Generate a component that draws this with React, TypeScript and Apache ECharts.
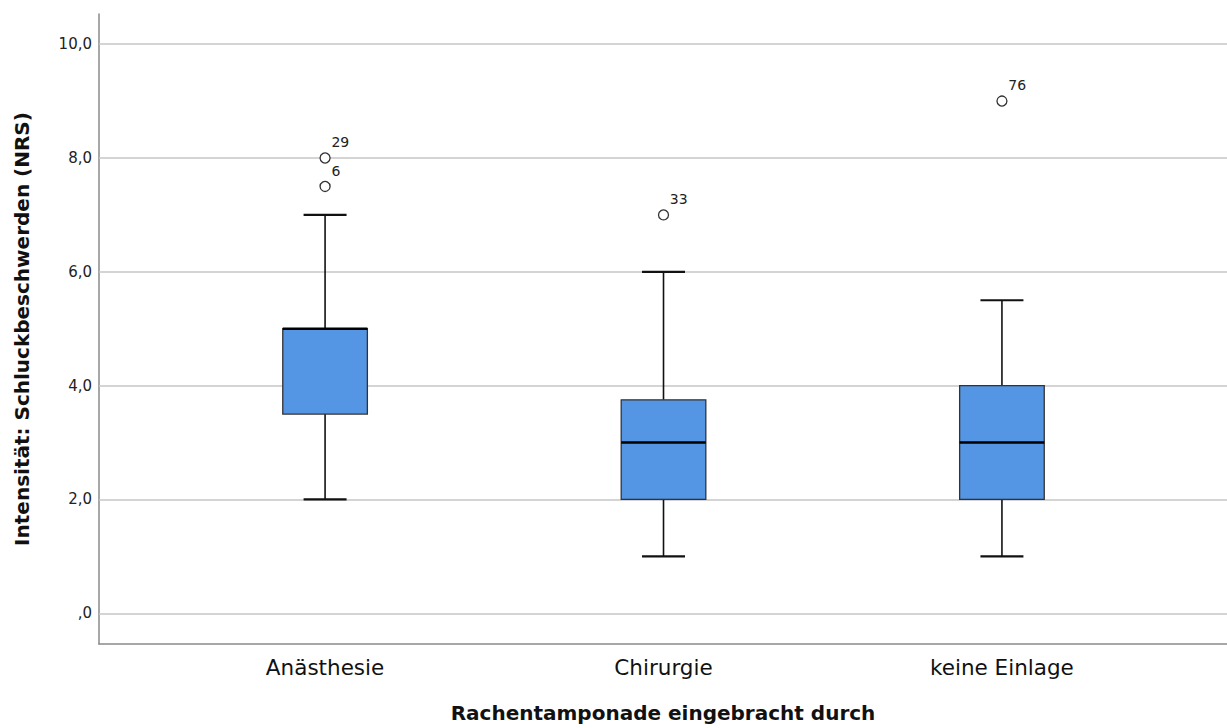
import React, { useEffect, useRef } from "react";
import * as echarts from "echarts";

const categories = ["Anästhesie", "Chirurgie", "keine Einlage"];
// [x position, min, Q1, median, Q3, max]
const boxData = [
  [1, 2, 3.5, 5, 5, 7],
  [2, 1, 2, 3, 3.75, 6],
  [3, 1, 2, 3, 4, 5.5],
];
// [x position, value, case label]
const outliers = [
  [1, 7.5, "6"],
  [1, 8, "29"],
  [2, 7, "33"],
  [3, 9, "76"],
];
const yTicks = [0, 2, 4, 6, 8, 10];
const xTicks = [1, 2, 3];

const FONT = "DejaVu Sans";

export default function App() {
  const ref = useRef<HTMLDivElement>(null);
  useEffect(() => {
    if (!ref.current) return;
    const chart = echarts.init(ref.current, null, { renderer: "svg" });
    const option = {
      animation: false,
      backgroundColor: "#fff",
      textStyle: { fontFamily: FONT },
      grid: { left: 99, right: 0, top: 14, bottom: 83 },
      xAxis: {
        type: "value",
        min: 0.332,
        max: 3.665,
        name: "Rachentamponade eingebracht durch",
        nameLocation: "middle",
        nameGap: 59,
        nameTextStyle: { fontSize: 20, fontWeight: "bold", color: "#111", fontFamily: FONT },
        axisLine: { show: true, onZero: false, lineStyle: { color: "#8a8a8a", width: 1.5 } },
        axisTick: { show: false },
        splitLine: { show: false },
        axisLabel: {
          customValues: xTicks,
          formatter: (v: number) => categories[Math.round(v) - 1] || "",
          fontSize: 21.5,
          color: "#111",
          margin: 12,
          fontFamily: FONT,
        },
      },
      yAxis: {
        type: "value",
        min: -0.54,
        max: 10.53,
        name: "Intensität: Schluckbeschwerden (NRS)",
        nameLocation: "middle",
        nameGap: 67,
        nameTextStyle: { fontSize: 20, fontWeight: "bold", color: "#111", fontFamily: FONT },
        axisLine: { show: true, onZero: false, lineStyle: { color: "#8a8a8a", width: 1.5 } },
        axisTick: { show: false },
        splitLine: { show: false },
        axisLabel: {
          customValues: yTicks,
          formatter: (v: number) =>
            Math.abs(v) < 1e-9 ? ",0" : v.toFixed(1).replace(".", ","),
          fontSize: 15,
          color: "#222",
          margin: 7,
          fontFamily: FONT,
        },
      },
      series: [
        {
          type: "scatter",
          data: [],
          z: 1,
          silent: true,
          markLine: {
            silent: true,
            z: 1,
            symbol: ["none", "none"],
            label: { show: false },
            lineStyle: { color: "#c6c6c6", width: 1.5, type: "solid" },
            data: yTicks.map((v) => ({ yAxis: v })),
          },
        },
        {
          type: "custom",
          z: 10,
          data: boxData,
          renderItem: (params: any, api: any) => {
            const x = api.value(0);
            const pMin = api.coord([x, api.value(1)]);
            const pQ1 = api.coord([x, api.value(2)]);
            const pMed = api.coord([x, api.value(3)]);
            const pQ3 = api.coord([x, api.value(4)]);
            const pMax = api.coord([x, api.value(5)]);
            const unit = api.size([1, 0])[0];
            const bw = unit * 0.25;
            const cw = unit * 0.127;
            const cx = pMin[0];
            const lineStyle = { stroke: "#111", lineWidth: 1.6 };
            return {
              type: "group",
              children: [
                { type: "line", shape: { x1: cx, y1: pMax[1], x2: cx, y2: pQ3[1] }, style: lineStyle },
                { type: "line", shape: { x1: cx, y1: pQ1[1], x2: cx, y2: pMin[1] }, style: lineStyle },
                { type: "line", shape: { x1: cx - cw / 2, y1: pMax[1], x2: cx + cw / 2, y2: pMax[1] }, style: { stroke: "#111", lineWidth: 2.2 } },
                { type: "line", shape: { x1: cx - cw / 2, y1: pMin[1], x2: cx + cw / 2, y2: pMin[1] }, style: { stroke: "#111", lineWidth: 2.2 } },
                {
                  type: "rect",
                  shape: { x: cx - bw / 2, y: pQ3[1], width: bw, height: pQ1[1] - pQ3[1] },
                  style: { fill: "#5495e4", stroke: "#333", lineWidth: 1.3 },
                },
                { type: "line", shape: { x1: cx - bw / 2, y1: pMed[1], x2: cx + bw / 2, y2: pMed[1] }, style: { stroke: "#000", lineWidth: 2.6 } },
              ],
            };
          },
        },
        {
          type: "scatter",
          z: 11,
          data: outliers,
          symbol: "circle",
          symbolSize: 10,
          itemStyle: { color: "#fff", borderColor: "#333", borderWidth: 1.3, opacity: 1 },
          label: {
            show: true,
            formatter: (p: any) => p.data[2],
            position: [12, -17],
            fontSize: 14,
            color: "#222",
            fontFamily: FONT,
          },
        },
      ],
    };
    chart.setOption(option as any);
    return () => chart.dispose();
  }, []);
  return (
    <div
      ref={ref}
      style={{ position: "fixed", left: 0, top: 0, width: 1227, height: 728, background: "#fff" }}
    />
  );
}
